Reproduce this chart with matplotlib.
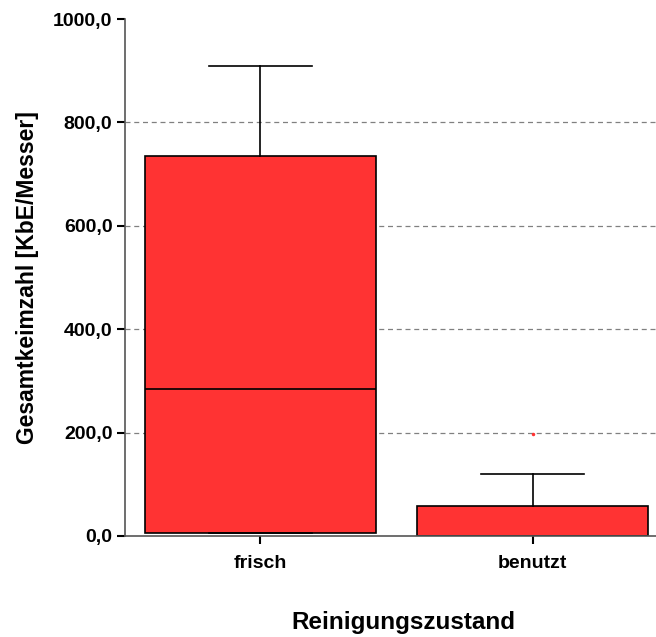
import matplotlib.pyplot as plt
from matplotlib.ticker import FuncFormatter

groups = ["frisch", "benutzt"]
q1 = [6, 0]
median = [285, 0]
q3 = [735, 58]
whisk_low = [6, 0]
whisk_high = [910, 120]
outliers = [[], [197]]
yticks = [0, 200, 400, 600, 800, 1000]

stats = []
for i, g in enumerate(groups):
    stats.append(dict(label=g, q1=q1[i], med=median[i], q3=q3[i],
                      whislo=whisk_low[i], whishi=whisk_high[i], fliers=outliers[i]))

fig = plt.figure(figsize=(6.56, 6.37), dpi=100)
ax = fig.add_axes([0.1905, 0.1586, 0.809, 0.8114])

ax.bxp(stats, positions=[1, 2], widths=0.85, patch_artist=True,
       boxprops=dict(facecolor="#ff3333", edgecolor="black", linewidth=1.2),
       medianprops=dict(color="black", linewidth=1.2),
       whiskerprops=dict(color="black", linewidth=1.2),
       capprops=dict(color="black", linewidth=1.2),
       capwidths=0.38,
       flierprops=dict(marker="o", markersize=1.5, markerfacecolor="#ff3333",
                       markeredgecolor="#ff3333"))

ax.set_xlim(0.503, 2.452)
ax.set_ylim(0, 1000)
ax.set_yticks(yticks)
ax.yaxis.set_major_formatter(FuncFormatter(lambda v, p: f"{v:.1f}".replace(".", ",")))
for y in yticks[1:-1]:
    ax.axhline(y, color="#808080", linestyle=(0, (4, 3)), linewidth=0.9, zorder=0)

for s in ["top", "right"]:
    ax.spines[s].set_visible(False)
ax.spines["left"].set_color("#555555")
ax.spines["bottom"].set_color("#555555")
ax.spines["left"].set_linewidth(1.2)
ax.spines["bottom"].set_linewidth(1.2)
ax.tick_params(axis="both", direction="out", length=6, width=1.5, color="black")
ax.tick_params(axis="y", labelsize=14, pad=3)
ax.tick_params(axis="x", labelsize=14, pad=8)
for lab in ax.get_yticklabels() + ax.get_xticklabels():
    lab.set_fontweight("bold")
    lab.set_family("Liberation Sans")

ax.set_ylabel("Gesamtkeimzahl [KbE/Messer]", fontsize=16.5, fontweight="bold",
              family="Liberation Sans", labelpad=10)
ax.set_xlabel("Reinigungszustand", fontsize=17.5, fontweight="bold",
              family="Liberation Sans")
ax.xaxis.set_label_coords(0.525, -0.145)

fig.savefig("out.png", dpi=100)
